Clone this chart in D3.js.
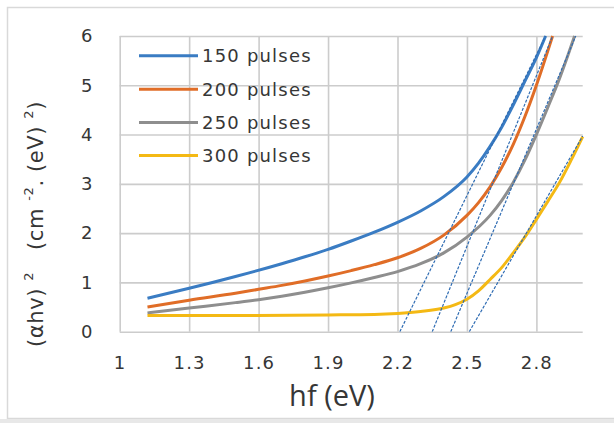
<!DOCTYPE html>
<html>
<head>
<meta charset="utf-8">
<script src="https://cdn.jsdelivr.net/npm/d3@7"></script>
<style>
  html, body { margin: 0; padding: 0; background: #fff; }
  svg { display: block; }
  .tick text { font-family: "DejaVu Sans", sans-serif; font-size: 18px; fill: #363636; letter-spacing: 1.2px; }
  .legend text { font-family: "DejaVu Sans", sans-serif; font-size: 18px; fill: #363636; letter-spacing: 1.2px; }
</style>
</head>
<body>
<svg id="chart" width="614" height="423"></svg>
<script>
// Photon energy hf (eV) and (αhν)² readings for each deposition
const hf150 = [1.12, 1.3, 1.5, 1.7, 1.8, 1.9, 2.0, 2.1, 2.2, 2.3, 2.4, 2.5, 2.55, 2.6, 2.65, 2.7, 2.75, 2.8, 2.84];
const ah150 = [0.68, 0.88, 1.12, 1.38, 1.52, 1.67, 1.84, 2.02, 2.22, 2.45, 2.74, 3.14, 3.42, 3.76, 4.15, 4.6, 5.08, 5.56, 6.0];

const hf200 = [1.12, 1.3, 1.5, 1.6, 1.7, 1.8, 1.9, 2.0, 2.1, 2.2, 2.3, 2.4, 2.5, 2.55, 2.6, 2.65, 2.7, 2.75, 2.8, 2.87];
const ah200 = [0.50, 0.64, 0.78, 0.86, 0.94, 1.03, 1.13, 1.24, 1.36, 1.50, 1.69, 1.96, 2.36, 2.62, 2.94, 3.33, 3.8, 4.36, 5.0, 6.0];

const hf250 = [1.12, 1.3, 1.5, 1.6, 1.7, 1.8, 1.9, 2.0, 2.1, 2.2, 2.3, 2.4, 2.5, 2.6, 2.65, 2.7, 2.75, 2.8, 2.85, 2.9, 2.965];
const ah250 = [0.38, 0.48, 0.59, 0.65, 0.72, 0.80, 0.89, 0.99, 1.10, 1.22, 1.38, 1.60, 1.92, 2.36, 2.66, 3.03, 3.48, 4.0, 4.56, 5.14, 6.0];

const hf300 = [1.12, 1.5, 1.9, 2.1, 2.2, 2.3, 2.4, 2.45, 2.5, 2.55, 2.6, 2.65, 2.7, 2.75, 2.8, 2.85, 2.9, 2.95, 3.0];
const ah300 = [0.33, 0.33, 0.34, 0.35, 0.37, 0.41, 0.48, 0.55, 0.66, 0.83, 1.06, 1.30, 1.60, 1.92, 2.28, 2.65, 3.03, 3.48, 3.96];

const seriesNames = ["150 pulses", "200 pulses", "250 pulses", "300 pulses"];
const seriesColors = ["#3a7cc3", "#e06d27", "#8e8e8e", "#f4b914"];

// Linear extrapolations of the absorption edges: start and end points (hf, value)
const tangentStart = [[2.21, 0], [2.35, 0], [2.43, 0], [2.51, 0]];
const tangentEnd   = [[2.84, 6.0], [2.87, 6.0], [2.97, 6.0], [3.0, 3.97]];

const xTicks = [1, 1.3, 1.6, 1.9, 2.2, 2.5, 2.8];
const yTicks = [0, 1, 2, 3, 4, 5, 6];

const svg = d3.select("#chart");
const W = 614, H = 423;
const m = { left: 119.7, right: 582.7, top: 36, bottom: 331.7 };

// Chart frame
svg.append("rect").attr("x", 0).attr("y", 0).attr("width", W).attr("height", H).attr("fill", "#fff");
svg.append("rect").attr("x", 7.5).attr("y", 7.5).attr("width", 640).attr("height", 411)
  .attr("fill", "none").attr("stroke", "#d9d9d9").attr("stroke-width", 1.5);
svg.append("rect").attr("x", 0).attr("y", 419).attr("width", W).attr("height", 4).attr("fill", "#e8e8e8");

const x = d3.scaleLinear().domain([1, 3]).range([m.left, m.right]);
const y = d3.scaleLinear().domain([0, 6]).range([m.bottom, m.top]);

// Axes with gridlines
const gx = svg.append("g").attr("transform", `translate(0,${m.bottom})`)
  .call(d3.axisBottom(x).tickValues(xTicks).tickSize(-(m.bottom - m.top)).tickPadding(25)
    .tickFormat(d => d === 1 ? "1" : d3.format(".1f")(d)));
const gy = svg.append("g").attr("transform", `translate(${m.left},0)`)
  .call(d3.axisLeft(y).tickValues(yTicks).tickSize(-(m.right - m.left)).tickPadding(26)
    .tickFormat(d3.format("d")));
[gx, gy].forEach(g => {
  g.select(".domain").remove();
  g.selectAll(".tick line").attr("stroke", "#cccccc").attr("stroke-width", 1.6);
});

// Data lines
const defs = svg.append("defs");
defs.append("clipPath").attr("id", "plotClip").append("rect")
  .attr("x", m.left).attr("y", m.top - 2).attr("width", m.right - m.left + 2).attr("height", m.bottom - m.top + 2);

const plot = svg.append("g").attr("clip-path", "url(#plotClip)");
const line = d3.line().x(d => x(d[0])).y(d => y(d[1])).curve(d3.curveMonotoneX);

const series = [
  d3.zip(hf150, ah150),
  d3.zip(hf200, ah200),
  d3.zip(hf250, ah250),
  d3.zip(hf300, ah300)
];

series.forEach((pts, i) => {
  plot.append("path").datum(pts)
    .attr("d", line)
    .attr("fill", "none")
    .attr("stroke", seriesColors[i])
    .attr("stroke-width", 3)
    .attr("stroke-linejoin", "round");
});

// Band-gap extrapolation lines
tangentStart.forEach((s, i) => {
  const e = tangentEnd[i];
  plot.append("line")
    .attr("x1", x(s[0])).attr("y1", y(s[1]))
    .attr("x2", x(e[0])).attr("y2", y(e[1]))
    .attr("stroke", "#2f6cb3")
    .attr("stroke-width", 1.2)
    .attr("stroke-dasharray", "3,1.5");
});

// Legend
const lg = svg.append("g").attr("class", "legend");
const legendY = [55.7, 89.3, 122.5, 155.5];
seriesNames.forEach((name, i) => {
  lg.append("line").attr("x1", 139).attr("x2", 198)
    .attr("y1", legendY[i]).attr("y2", legendY[i])
    .attr("stroke", seriesColors[i]).attr("stroke-width", 3);
  lg.append("text").attr("x", 202).attr("y", legendY[i]).attr("dy", "0.36em").text(name);
});

// Axis titles
svg.append("text")
  .attr("x", 332).attr("y", 406)
  .attr("text-anchor", "middle")
  .attr("font-family", "'Open Sans', sans-serif")
  .attr("font-size", 29)
  .attr("fill", "#363636")
  .text("hf (eV)");

const yt = svg.append("text")
  .attr("transform", "translate(43,224) rotate(-90)")
  .attr("text-anchor", "middle")
  .attr("font-family", "'DejaVu Sans', sans-serif")
  .attr("font-size", 21)
  .attr("letter-spacing", 0.6)
  .attr("fill", "#363636");
yt.append("tspan").text("(αhv) ");
yt.append("tspan").attr("dy", -10).attr("font-size", 13).text("2");
yt.append("tspan").attr("dy", 10).attr("xml:space", "preserve").text("   (cm ");
yt.append("tspan").attr("dy", -10).attr("font-size", 13).text("-2");
yt.append("tspan").attr("dy", 10).text(". (eV) ");
yt.append("tspan").attr("dy", -10).attr("font-size", 13).text("2");
yt.append("tspan").attr("dy", 10).text(")");
</script>
</body>
</html>
